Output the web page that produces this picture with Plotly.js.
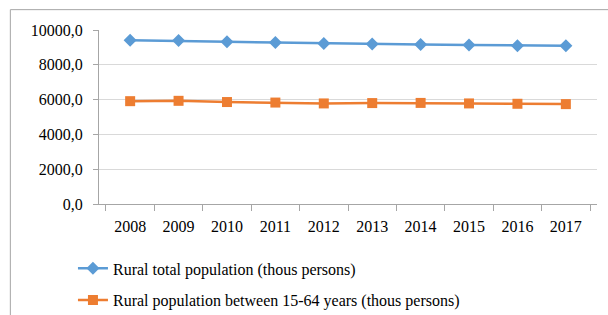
<!DOCTYPE html>
<html><head><meta charset="utf-8">
<script src="https://cdn.plot.ly/plotly-3.0.1.min.js"></script>
<style>html,body{margin:0;padding:0;background:#fff}#c{width:608px;height:315px}</style>
</head><body><div id="c"></div>
<script>
const years = ['2008','2009','2010','2011','2012','2013','2014','2015','2016','2017'];
const ruralTotal = [9410, 9390, 9330, 9280, 9230, 9200, 9170, 9140, 9100, 9090];
const rural1564 = [5910, 5930, 5860, 5830, 5780, 5800, 5810, 5780, 5760, 5740];
const seriesNames = ['Rural total population (thous persons)', 'Rural population between 15-64 years (thous persons)'];

const traces = [
  {x: years, y: ruralTotal, name: seriesNames[0], legendgroup: 'a', type: 'scatter', mode: 'lines+markers',
   line: {color: '#5b9bd5', width: 2.5}, marker: {symbol: 'diamond', size: 10, color: '#5b9bd5'}},
  {x: years, y: rural1564, name: seriesNames[1], legendgroup: 'b', type: 'scatter', mode: 'lines+markers',
   line: {color: '#ed7d31', width: 2.5}, marker: {symbol: 'square', size: 10, color: '#ed7d31'}}
];
const F = () => ({family: 'Liberation Serif, Times New Roman, serif', size: 16, color: '#000'});
const layout = {
  width: 608, height: 315,
  margin: {l: 99, r: 11, t: 30, b: 111, autoexpand: false},
  paper_bgcolor: '#fff', plot_bgcolor: '#fff',
  font: F(),
  separators: ',.',
  showlegend: true,
  xaxis: {type: 'category', tickson: 'boundaries', ticks: 'outside', ticklen: 6, tickcolor: '#a6a6a6',
    showline: true, linecolor: '#a6a6a6', showgrid: false, ticklabelstandoff: 8, tickfont: F(), fixedrange: true},
  yaxis: {range: [0, 10000], dtick: 2000, tickformat: '.1f', ticks: 'outside', ticklen: 5, tickcolor: '#a6a6a6',
    showline: true, linecolor: '#a6a6a6', gridcolor: '#d9d9d9', gridwidth: 1, zeroline: false,
    ticklabelstandoff: 7, tickfont: F(), fixedrange: true},
  legend: {orientation: 'v', xref: 'container', yref: 'container', x: 0.12, xanchor: 'left', y: 0.202, yanchor: 'top', font: F(),
    tracegroupgap: 8, itemwidth: 30, bgcolor: 'rgba(0,0,0,0)'},
  shapes: [{type: 'rect', xref: 'paper', yref: 'paper', x0: -0.178, x1: 1.5, y0: -1.5, y1: 1.117,
    line: {color: '#a6a6a6', width: 1}, fillcolor: 'rgba(0,0,0,0)', layer: 'below'}]
};
Plotly.newPlot('c', traces, layout, {displayModeBar: false, staticPlot: true});
</script></body></html>
